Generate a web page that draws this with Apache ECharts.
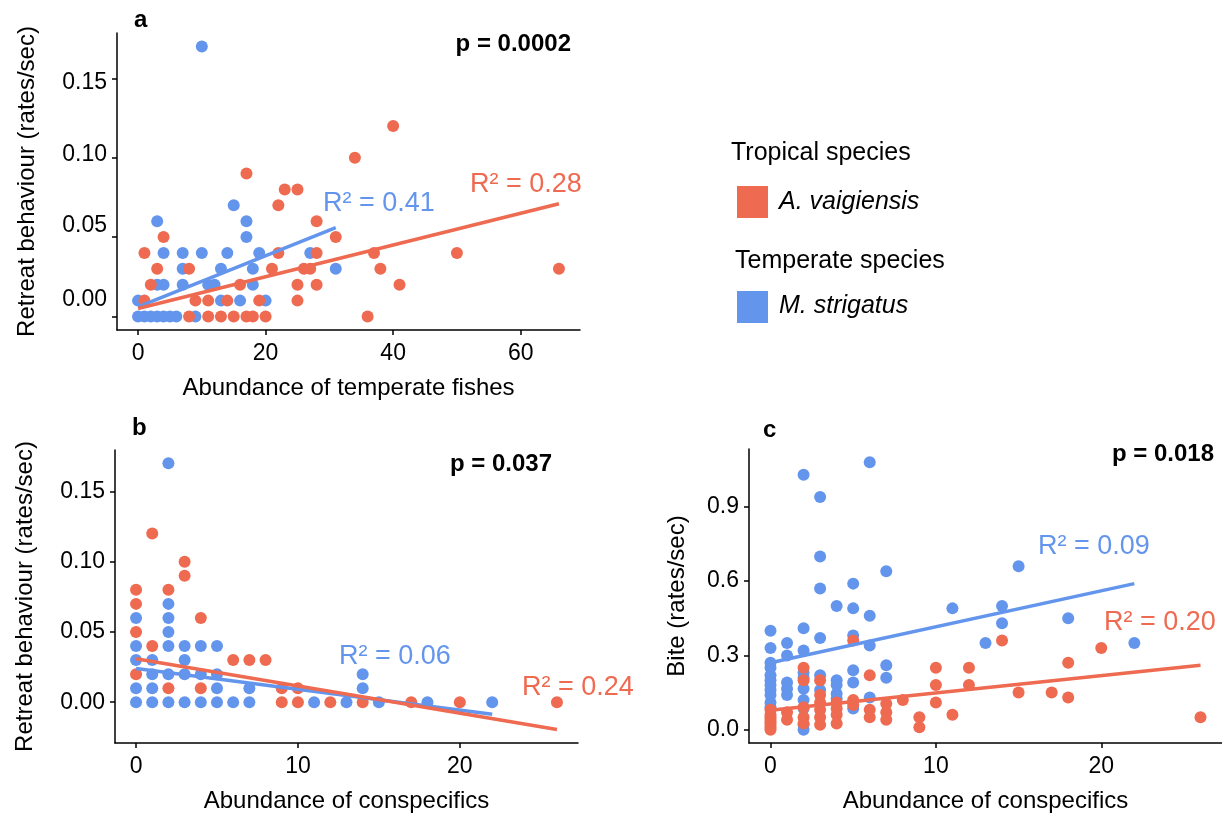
<!DOCTYPE html>
<html>
<head>
<meta charset="utf-8">
<script src="https://cdn.jsdelivr.net/npm/echarts@6/dist/echarts.min.js"></script>
<style>
  html, body { margin: 0; padding: 0; background: #fff; }
  #chart { width: 1222px; height: 814px; }
</style>
</head>
<body>
<div id="chart"></div>
<script>
// colours
const RED = '#EE6A50'
const BLUE = '#6495ED'
const FONT = '"Liberation Sans", Arial, sans-serif'

// panel a: abundance of temperate fishes vs retreat
const aBlue = [[10, 0.17], [3, 0.06], [4, 0.04], [7, 0.04], [10, 0.04], [14, 0.04], [15, 0.07], [17, 0.06], [17, 0.05],
  [19, 0.04], [18, 0.03], [13, 0.03], [7, 0.03], [7, 0.02], [3, 0.02], [4, 0.02], [11, 0.02], [12, 0.02], [18, 0.02],
  [0, 0.01], [13, 0.01], [16, 0.01], [20, 0.01], [27, 0.04], [31, 0.03],
  [0, 0], [1, 0], [2, 0], [3, 0], [4, 0], [5, 0], [6, 0], [9, 0]]
const aRed = [[1, 0.04], [4, 0.05], [3, 0.03], [2, 0.02], [1, 0.01], [8, 0.03], [9, 0.01], [11, 0.01], [14, 0.01],
  [17, 0.09], [16, 0.02], [19, 0.01], [21, 0.03], [22, 0.07], [22, 0.04], [23, 0.08], [25, 0.08], [25, 0.02],
  [25, 0.01], [26, 0.03], [27, 0.03], [28, 0.06], [28, 0.04], [28, 0.02], [31, 0.05], [34, 0.10], [36, 0],
  [37, 0.04], [38, 0.03], [40, 0.12], [41, 0.02], [50, 0.04], [66, 0.03],
  [8, 0], [11, 0], [13, 0], [15, 0], [17, 0], [18, 0], [20, 0]]
const aFitBlue = [[0, 0.006], [31, 0.056]]
const aFitRed = [[0, 0.005], [66, 0.071]]

// panel b: abundance of conspecifics vs retreat
const bBlue = [[0, 0], [0, 0.01], [0, 0.03], [0, 0.04], [0, 0.06], [1, 0], [1, 0.01], [1, 0.02], [1, 0.03],
  [2, 0], [2, 0.02], [2, 0.04], [2, 0.05], [2, 0.06], [2, 0.07], [2, 0.17], [3, 0], [3, 0.02], [3, 0.03], [3, 0.04],
  [4, 0], [4, 0.02], [4, 0.04], [5, 0], [5, 0.01], [5, 0.02], [5, 0.04], [6, 0], [7, 0], [7, 0.01],
  [11, 0], [13, 0], [14, 0.01], [14, 0.02], [15, 0], [18, 0], [22, 0]]
const bRed = [[0, 0.02], [0, 0.05], [0, 0.07], [0, 0.08], [1, 0.04], [1, 0.12], [2, 0.01], [2, 0.08], [3, 0.09],
  [3, 0.10], [4, 0.01], [4, 0.06], [6, 0.03], [7, 0.03], [8, 0.03], [9, 0], [9, 0.01], [10, 0], [10, 0.01],
  [12, 0], [14, 0], [17, 0], [20, 0], [26, 0]]
const bFitBlue = [[0, 0.024], [22, -0.0085]]
const bFitRed = [[0, 0.031], [26, -0.0194]]

// panel c: abundance of conspecifics vs bite
const cBlue = [[0, 0.40], [0, 0.33], [0, 0.27], [0, 0.25], [0, 0.22], [0, 0.20], [0, 0.18], [0, 0.16], [0, 0.14],
  [0, 0.11], [0, 0.09], [1, 0.35], [1, 0.30], [1, 0.19], [1, 0.165], [1, 0.14], [2, 1.03], [2, 0.41], [2, 0.32],
  [2, 0.23], [2, 0.21], [2, 0.165], [2, 0.12], [2, 0.085], [2, 0.02], [2, 0], [3, 0.94], [3, 0.70], [3, 0.57],
  [3, 0.37], [3, 0.22], [3, 0.16], [4, 0.50], [4, 0.20], [4, 0.18], [4, 0.145], [4, 0.125], [5, 0.59], [5, 0.49],
  [5, 0.38], [5, 0.24], [5, 0.19], [5, 0.085], [6, 1.08], [6, 0.46], [6, 0.34], [6, 0.13], [7, 0.64], [7, 0.26],
  [7, 0.21], [11, 0.49], [13, 0.35], [14, 0.50], [14, 0.43], [15, 0.66], [18, 0.45], [22, 0.35]]
const cRed = [[0, 0.08], [0, 0.06], [0, 0.05], [0, 0.04], [0, 0.03], [0, 0.02], [0, 0.01], [0, 0], [1, 0.07],
  [1, 0.04], [2, 0.25], [2, 0.20], [2, 0.09], [2, 0.05], [2, 0.025], [3, 0.20], [3, 0.14], [3, 0.11], [3, 0.08],
  [3, 0.05], [3, 0.02], [4, 0.11], [4, 0.085], [4, 0.06], [4, 0.025], [5, 0.36], [5, 0.12], [5, 0.10], [6, 0.22],
  [6, 0.08], [6, 0.05], [7, 0.105], [7, 0.07], [7, 0.04], [8, 0.12], [9, 0.05], [9, 0.01], [10, 0.25], [10, 0.18],
  [10, 0.11], [11, 0.06], [12, 0.25], [12, 0.18], [14, 0.36], [15, 0.15], [17, 0.15], [18, 0.27], [18, 0.13],
  [20, 0.33], [26, 0.05]]
const cFitBlue = [[0, 0.27], [22, 0.59]]
const cFitRed = [[0, 0.078], [26, 0.26]]

// tick labels
const aXTicks = [0, 20, 40, 60]
const retreatTicks = [0, 0.05, 0.10, 0.15]
const conspTicks = [0, 10, 20]
const biteTicks = [0, 0.3, 0.6, 0.9]

const axisLine = { onZero: false, lineStyle: { color: '#000', width: 1.5 } }
const tickStyle = { color: '#000', width: 1.5 }

function xAxis(idx, min, max, ticks, name) {
  return {
    type: 'value', gridIndex: idx, min: min, max: max,
    name: name, nameLocation: 'middle', nameGap: 46,
    nameTextStyle: { fontFamily: FONT, fontSize: 24, color: '#000' },
    axisLine: axisLine,
    axisTick: { show: true, length: 5, lineStyle: tickStyle, customValues: ticks },
    axisLabel: { fontFamily: FONT, fontSize: 23, color: '#000', margin: 12, customValues: ticks },
    splitLine: { show: false }
  }
}

function yAxis(idx, min, max, ticks, digits, name, gap) {
  return {
    type: 'value', gridIndex: idx, min: min, max: max,
    name: name, nameLocation: 'middle', nameGap: gap, nameRotate: 90,
    nameTextStyle: { fontFamily: FONT, fontSize: 24, color: '#000' },
    axisLine: Object.assign({ show: true }, axisLine),
    axisTick: { show: true, length: 5, lineStyle: tickStyle, customValues: ticks },
    axisLabel: {
      fontFamily: FONT, fontSize: 23, color: '#000', margin: 10, customValues: ticks,
      formatter: v => v.toFixed(digits)
    },
    splitLine: { show: false }
  }
}

function dots(idx, data, color) {
  return {
    type: 'scatter', xAxisIndex: idx, yAxisIndex: idx, data: data,
    symbolSize: 12, itemStyle: { color: color, opacity: 1 }, z: 2
  }
}

function fit(idx, data, color) {
  return {
    type: 'line', xAxisIndex: idx, yAxisIndex: idx, data: data,
    showSymbol: false, lineStyle: { color: color, width: 3.5 }, z: 3
  }
}

function txt(x, y, text, size, color, bold, italic) {
  return {
    type: 'text', x: x, y: y,
    style: {
      text: text, fill: color, textVerticalAlign: 'middle',
      font: (italic ? 'italic ' : '') + (bold ? 'bold ' : '') + size + 'px ' + FONT
    }
  }
}

function rtxt(x, y, text, size) {
  const t = txt(x, y, text, size, '#000', true)
  t.style.textAlign = 'right'
  return t
}

const yA = yAxis(0, -0.0085, 0.1785, retreatTicks, 2, 'Retreat behaviour (rates/sec)', 78)
// in the source figure the lower labels of panel a sit a little above their ticks
yA.axisLabel.formatter = v => '{l' + Math.round(v * 100) + '|' + v.toFixed(2) + '}'
yA.axisLabel.rich = {
  l0: { padding: [0, 0, 34, 0] },
  l5: { padding: [0, 0, 22, 0] },
  l10: { padding: [0, 0, 6, 0] },
  l15: { padding: [8, 0, 0, 0] }
}

const option = {
  animation: false,
  grid: [
    { left: 117, top: 33, width: 463, height: 297 },
    { left: 115, top: 450, width: 463, height: 294 },
    { left: 749, top: 449, width: 473, height: 296 }
  ],
  xAxis: [
    xAxis(0, -3.3, 69.3, aXTicks, 'Abundance of temperate fishes'),
    xAxis(1, -1.3, 27.3, conspTicks, 'Abundance of conspecifics'),
    xAxis(2, -1.3, 27.3, conspTicks, 'Abundance of conspecifics')
  ],
  yAxis: [
    yA,
    yAxis(1, -0.029, 0.1795, retreatTicks, 2, 'Retreat behaviour (rates/sec)', 78),
    yAxis(2, -0.054, 1.134, biteTicks, 1, 'Bite (rates/sec)', 60)
  ],
  series: [
    dots(0, aBlue, BLUE), dots(0, aRed, RED), fit(0, aFitBlue, BLUE), fit(0, aFitRed, RED),
    dots(1, bBlue, BLUE), dots(1, bRed, RED), fit(1, bFitBlue, BLUE), fit(1, bFitRed, RED),
    dots(2, cBlue, BLUE), dots(2, cRed, RED), fit(2, cFitBlue, BLUE), fit(2, cFitRed, RED)
  ],
  graphic: [
    txt(134, 20, 'a', 24, '#000', true),
    txt(132, 428, 'b', 24, '#000', true),
    txt(763, 430, 'c', 24, '#000', true),
    rtxt(571, 44, 'p = 0.0002', 24),
    rtxt(552, 464, 'p = 0.037', 24),
    rtxt(1214, 454, 'p = 0.018', 24),
    txt(323, 204, 'R² = 0.41', 27, BLUE),
    txt(470, 185, 'R² = 0.28', 27, RED),
    txt(339, 657, 'R² = 0.06', 27, BLUE),
    txt(522, 688, 'R² = 0.24', 27, RED),
    txt(1038, 547, 'R² = 0.09', 27, BLUE),
    txt(1104, 623, 'R² = 0.20', 27, RED),
    // legend
    txt(731, 153, 'Tropical species', 25, '#000'),
    { type: 'rect', shape: { x: 737, y: 186, width: 31, height: 32 }, style: { fill: RED } },
    txt(779, 202, 'A. vaigiensis', 25, '#000', false, true),
    txt(735, 261, 'Temperate species', 25, '#000'),
    { type: 'rect', shape: { x: 737, y: 291, width: 31, height: 32 }, style: { fill: BLUE } },
    txt(779, 306, 'M. strigatus', 25, '#000', false, true)
  ]
}

const chart = echarts.init(document.getElementById('chart'))
chart.setOption(option)
</script>
</body>
</html>
